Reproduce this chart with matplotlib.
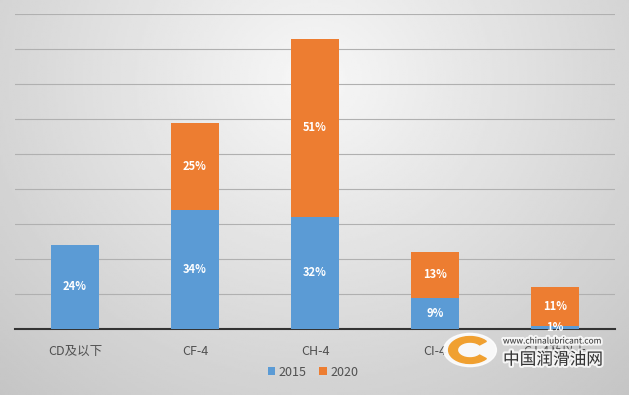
import numpy as np
import matplotlib.pyplot as plt
import matplotlib.patheffects as pe
from matplotlib.patches import Wedge, Circle

plt.rcParams['font.family'] = ['Noto Sans CJK SC', 'DejaVu Sans']

# data
categories = ['CD及以下', 'CF-4', 'CH-4', 'CI-4', 'CJ-4及以上']
share_2015 = [24, 34, 32, 9, 1]
share_2020 = [0, 25, 51, 13, 11]

blue = '#5b9bd5'
orange = '#ed7d31'

fig = plt.figure(figsize=(6.29, 3.95), dpi=100)

# gray gradient background
bg = fig.add_axes([0, 0, 1, 1], zorder=-10)
yy, xx = np.mgrid[0:1:200j, 0:1:300j]
r = np.sqrt(((xx - 0.5) / 0.75) ** 2 + ((yy - 0.2) / 1.1) ** 2)
bg.imshow(0.97 - 0.2 * r, cmap='gray', vmin=0, vmax=1, aspect='auto',
          extent=[0, 1, 1, 0])
bg.set_xlim(0, 1)
bg.set_ylim(1, 0)
bg.axis('off')

ax = fig.add_axes([15 / 629, 1 - 329 / 395, 600 / 629, 315 / 395])
ax.patch.set_alpha(0)
x = np.arange(len(categories))
b1 = ax.bar(x, share_2015, 0.4, color=blue, label='2015', zorder=3)
b2 = ax.bar(x, share_2020, 0.4, bottom=share_2015, color=orange, label='2020', zorder=3)

for i in range(len(categories)):
    if share_2015[i] > 0:
        ax.text(x[i], share_2015[i] / 2, f'{share_2015[i]}%', ha='center', va='center',
                color='white', fontsize=8, fontweight='bold', zorder=4)
    if share_2020[i] > 0:
        ax.text(x[i], share_2015[i] + share_2020[i] / 2, f'{share_2020[i]}%', ha='center',
                va='center', color='white', fontsize=8, fontweight='bold', zorder=4)

ax.set_xlim(-0.5, 4.5)
ax.set_ylim(0, 90)
ax.set_yticks(np.arange(10, 91, 10))
ax.yaxis.grid(True, color='#b0b0b0', linewidth=0.8, zorder=0)
ax.tick_params(axis='y', left=False, labelleft=False)
ax.tick_params(axis='x', bottom=False, labelsize=9, labelcolor='#505050', pad=8)
ax.set_xticks(x)
ax.set_xticklabels(categories)
for s in ['top', 'right', 'left']:
    ax.spines[s].set_visible(False)
ax.spines['bottom'].set_color('#333333')
ax.spines['bottom'].set_linewidth(1.5)

fig.legend(handles=[b1, b2], loc='center', bbox_to_anchor=(313 / 629, 1 - 372 / 395),
           ncol=2, frameon=False, fontsize=9, handlelength=0.6, handleheight=0.6,
           columnspacing=1.0, handletextpad=0.3, labelcolor='#505050')

# watermark (figure fraction coords, y measured from top)
glow = [pe.withStroke(linewidth=3, foreground='white', alpha=0.8)]
cx, cy = 470 / 629, 1 - 350 / 395
fig.patches.append(Circle((cx, cy), 0.042, transform=fig.transFigure,
                          color='white', alpha=0.85, zorder=5))
fig.patches.append(Wedge((cx, cy), 0.034, 40, 320, width=0.014,
                         transform=fig.transFigure, color='#f0a030', zorder=6))
fig.text(503 / 629, 1 - 341 / 395, 'www.chinalubricant.com', fontsize=6, color='#333333',
         va='center', zorder=6, path_effects=glow)
fig.text(503 / 629, 1 - 360 / 395, '中国润滑油网', fontsize=12, color='#333333',
         va='center', zorder=6, path_effects=glow)

fig.savefig('out.png', dpi=100)
